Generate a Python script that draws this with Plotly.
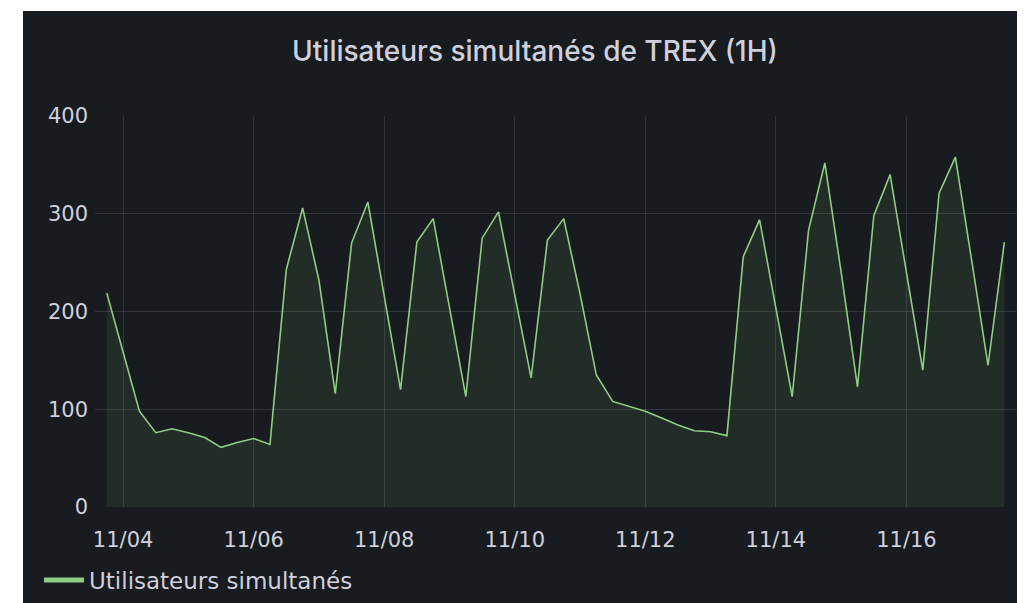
# Import libraries
import pandas as pd
import plotly.graph_objects as go

# Step 1: Data (one point every 6 hours)
start_time = "2023-11-03 18:00"
step = "6h"
users = [
    219, 158, 98, 76, 80, 76, 71, 61, 66, 70,
    64, 243, 306, 232, 116, 270, 312, 216, 120, 271,
    295, 204, 113, 275, 302, 217, 132, 273, 295, 218,
    135, 108, 103, 98, 91, 84, 78, 77, 73, 256,
    294, 205, 113, 283, 352, 240, 123, 298, 340, 240,
    140, 321, 358, 252, 145, 271,
]
series_name = "Utilisateurs simultanés"
chart_title = "Utilisateurs simultanés de TREX (1H)"
y_ticks = [0, 100, 200, 300, 400]

times = pd.date_range(start=start_time, periods=len(users), freq=step)
df = pd.DataFrame({"time": times, "users": users})

# Step 2: Colours (Grafana dark theme look)
panel_bg = "#181b1f"
green = "#8fcd84"
text_col = "#d0d0dc"
grid_col = "rgba(204,204,220,0.15)"

# Step 3: Build the figure
fig = go.Figure()

fig.add_trace(go.Scatter(
    x=df["time"],
    y=df["users"],
    mode="lines",
    line=dict(color=green, width=1.6),
    fill="tozeroy",
    fillcolor="rgba(115,191,105,0.11)",
    showlegend=False,
))

# legend-only entry drawn as a thick bar, like Grafana
fig.add_trace(go.Scatter(
    x=[None],
    y=[None],
    mode="lines",
    line=dict(color=green, width=5),
    name=series_name,
))

# Step 4: Figure geometry (page body adds an 8px offset, so the figure is 1017x595)
W, H = 1017, 595
plot_l, plot_r, plot_t, plot_b = 87, 1012, 108, 499
pw, ph = plot_r - plot_l, plot_b - plot_t

# dark panel behind everything (white strip left and top)
fig.add_shape(
    type="rect", xref="paper", yref="paper", layer="below",
    x0=(15 - plot_l) / pw, x1=(W + 10 - plot_l) / pw,
    y0=(plot_b - H - 10) / ph, y1=(plot_b - 3) / ph,
    fillcolor=panel_bg, line=dict(width=0),
)

# Step 5: Layout
fig.update_layout(
    width=W,
    height=H,
    margin=dict(l=plot_l, r=W - plot_r, t=plot_t, b=H - plot_b,
                autoexpand=False),
    paper_bgcolor="white",
    plot_bgcolor=panel_bg,
    font=dict(family="DejaVu Sans", color=text_col, size=21),
    title=dict(
        text=chart_title,
        x=527 / W, xanchor="center",
        y=1 - 43 / H, yanchor="middle",
        font=dict(family="Inter", size=28, color=text_col, weight=500),
    ),
    xaxis=dict(
        type="date",
        range=["2023-11-03 13:40", "2023-11-17 17:45"],
        tick0="2023-11-04",
        dtick=2 * 86400000,
        tickformat="%m/%d",
        showgrid=True,
        gridcolor=grid_col,
        zeroline=False,
        showline=False,
        ticklabelstandoff=18,
        tickfont=dict(size=21),
    ),
    yaxis=dict(
        range=[0, 400],
        tickvals=y_ticks,
        showgrid=True,
        gridcolor=grid_col,
        zeroline=False,
        showline=False,
        ticklabelstandoff=6,
        tickfont=dict(size=21),
    ),
    legend=dict(
        xref="container", yref="container",
        x=31 / W, xanchor="left",
        y=1 - 572 / H, yanchor="middle",
        itemwidth=40,
        font=dict(size=23, color=text_col),
        bgcolor="rgba(0,0,0,0)",
    ),
)

# Step 6: Save chart
fig.write_html("out.html")
